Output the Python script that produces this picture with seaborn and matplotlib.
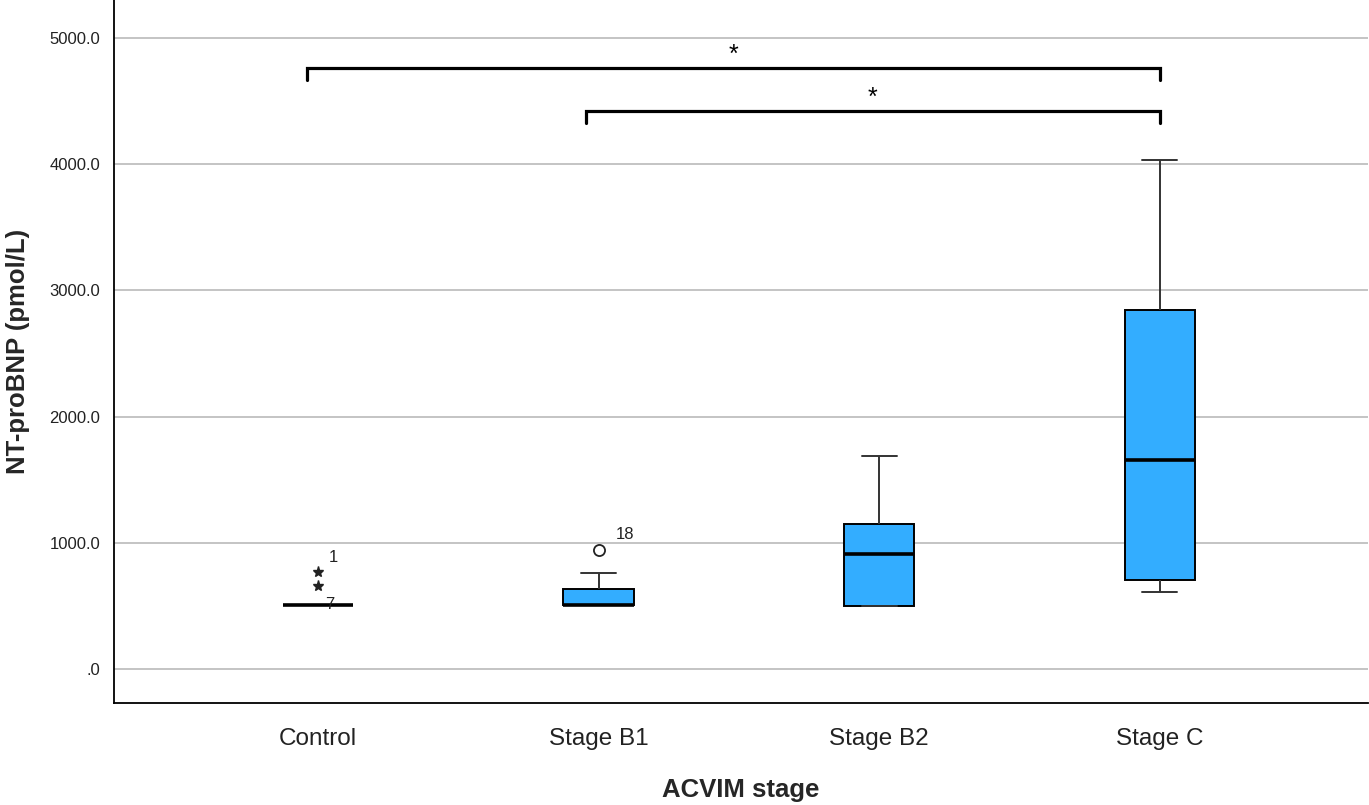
import matplotlib
matplotlib.use("Agg")
import matplotlib.pyplot as plt
import seaborn as sns
import pandas as pd
import numpy as np

# ---- data ----
categories = ["Control", "Stage B1", "Stage B2", "Stage C"]
# five-number summaries (min whisker, Q1, median, Q3, max whisker)
control_vals = [507, 507, 507, 507, 507]
b1_vals = [507, 507, 507, 634, 761]
b2_vals = [499, 499, 911, 1149, 1688]
c_vals = [610, 705, 1656, 2845, 4033]

# outliers
extreme_cat = ["Control", "Control"]
extreme_vals = [658, 769]
mild_cat = ["Stage B1"]
mild_vals = [943]

# case labels
case_labels = ["1", "7", "18"]
case_label_cat = [0, 0, 1]
case_label_y = [880, 515, 1070]
case_label_dx = [0.04, 0.025, 0.06]

# significance brackets: (left cat, right cat, level)
brk_left = [0, 1]
brk_right = [3, 3]
brk_y = [4762, 4422]
brk_drop = 95
yticks = [0, 1000, 2000, 3000, 4000, 5000]
ytick_labels = [".0", "1000.0", "2000.0", "3000.0", "4000.0", "5000.0"]

df = pd.DataFrame({
    "stage": sum([[c] * 5 for c in categories], []),
    "value": control_vals + b1_vals + b2_vals + c_vals,
})

sns.set_theme(style="white")
plt.rcParams["font.family"] = ["Liberation Sans", "DejaVu Sans"]

fig = plt.figure(figsize=(13.69, 8.05), dpi=100)
ax = fig.add_axes([0.0833, 0.1267, 0.9157, 0.8733])

ax.set_axisbelow(True)
ax.yaxis.grid(True, color="#c4c4c4", linewidth=1.4)

sns.boxplot(data=df, x="stage", y="value", order=categories, ax=ax,
            color="#33adff", saturation=1, width=0.25, whis=(0, 100),
            showfliers=False, linecolor="black", linewidth=1.4,
            medianprops=dict(color="black", linewidth=2.6),
            whiskerprops=dict(color="#333333", linewidth=1.4),
            capprops=dict(color="#333333", linewidth=1.4))

pos = {c: i for i, c in enumerate(categories)}
ax.plot([pos[c] for c in extreme_cat], extreme_vals, linestyle="none",
        marker="*", markersize=8, color="#222222")
ax.plot([pos[c] for c in mild_cat], mild_vals, linestyle="none",
        marker="o", markersize=8, markerfacecolor="none",
        markeredgecolor="#222222", markeredgewidth=1.3)
for lab, ci, yy, dx in zip(case_labels, case_label_cat, case_label_y, case_label_dx):
    ax.text(ci + dx, yy, lab, fontsize=12, color="#222222",
            ha="left", va="center")

for l, r, yb, off in zip(brk_left, brk_right, brk_y, [-0.04, -0.045]):
    ax.plot([l + off, l + off, r, r], [yb - brk_drop, yb, yb, yb - brk_drop],
            color="black", linewidth=2.3, solid_joinstyle="miter")
    ax.text((l + off + r) / 2, yb + 10, "*", fontsize=18, ha="center",
            va="bottom", color="black")

ax.set_xlim(-0.726, 3.74)
ax.set_ylim(-269, 5301)
ax.set_yticks(yticks)
ax.set_yticklabels(ytick_labels)
ax.tick_params(axis="y", labelsize=12, labelcolor="#222222", length=0, pad=10)
ax.tick_params(axis="x", labelsize=17.5, labelcolor="#222222", length=0, pad=18)

for s in ["top", "right"]:
    ax.spines[s].set_visible(False)
for s in ["left", "bottom"]:
    ax.spines[s].set_color("black")
    ax.spines[s].set_linewidth(1.3)

ax.set_xlabel("ACVIM stage", fontsize=18.5, fontweight="bold", labelpad=20)
ax.set_ylabel("NT-proBNP (pmol/L)", fontsize=18.5, fontweight="bold", labelpad=14)

fig.savefig("out.png", dpi=100)
